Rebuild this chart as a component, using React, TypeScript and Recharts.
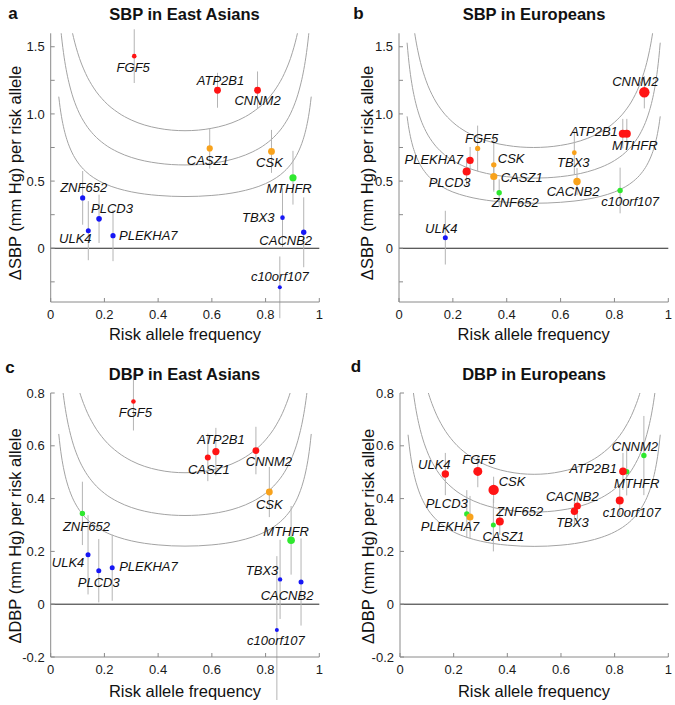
import React from 'react'
import {
  ComposedChart,
  Scatter,
  Line,
  XAxis,
  YAxis,
  ErrorBar,
  ReferenceLine,
} from 'recharts'

// --- data ---

// a: SBP in East Asians
const aGene = ['FGF5', 'ATP2B1', 'CNNM2', 'CASZ1', 'CSK', 'MTHFR', 'ZNF652', 'ULK4', 'PLCD3', 'PLEKHA7', 'TBX3', 'CACNB2', 'c10orf107']
const aFreq = [0.311, 0.621, 0.77, 0.592, 0.822, 0.902, 0.119, 0.14, 0.18, 0.232, 0.863, 0.942, 0.853]
const aBeta = [1.43, 1.176, 1.176, 0.743, 0.721, 0.525, 0.375, 0.131, 0.219, 0.094, 0.228, 0.119, -0.291]
const aErr = [0.2, 0.13, 0.14, 0.15, 0.16, 0.2, 0.2, 0.22, 0.18, 0.19, 0.22, 0.26, 0.23]
const aSig = ['r', 'r', 'r', 'o', 'o', 'g', 'b', 'b', 'b', 'b', 'b', 'b', 'b']
const aWeight = [2.3, 3.4, 3.4, 3.1, 3.4, 3.6, 2.6, 2.5, 2.8, 2.6, 2.3, 2.7, 2.0]

// b: SBP in Europeans
const bGene = ['CNNM2', 'ATP2B1', 'MTHFR', 'FGF5', 'PLEKHA7', 'PLCD3', 'CSK', 'CASZ1', 'ZNF652', 'TBX3', 'CACNB2', 'c10orf107', 'ULK4']
const bFreq = [0.911, 0.831, 0.846, 0.292, 0.264, 0.251, 0.352, 0.352, 0.372, 0.651, 0.661, 0.821, 0.172]
const bBeta = [1.161, 0.853, 0.853, 0.743, 0.654, 0.572, 0.621, 0.534, 0.413, 0.711, 0.497, 0.43, 0.079]
const bErr = [0.12, 0.11, 0.11, 0.17, 0.1, 0.1, 0.2, 0.1, 0.1, 0.16, 0.1, 0.17, 0.2]
const bSig = ['r', 'r', 'r', 'o', 'r', 'r', 'o', 'o', 'g', 'o', 'o', 'g', 'b']
const bWeight = [5.2, 4.0, 4.0, 2.6, 3.6, 4.0, 2.7, 3.6, 2.7, 2.4, 3.7, 2.7, 2.5]

// c: DBP in East Asians
const cGene = ['FGF5', 'CASZ1', 'ATP2B1', 'CNNM2', 'CSK', 'ZNF652', 'MTHFR', 'ULK4', 'PLCD3', 'PLEKHA7', 'TBX3', 'CACNB2', 'c10orf107']
const cFreq = [0.308, 0.585, 0.615, 0.764, 0.814, 0.118, 0.895, 0.139, 0.179, 0.229, 0.854, 0.932, 0.842]
const cBeta = [0.768, 0.556, 0.578, 0.582, 0.425, 0.344, 0.242, 0.187, 0.127, 0.138, 0.094, 0.084, -0.098]
const cErr = [0.11, 0.09, 0.09, 0.09, 0.095, 0.12, 0.13, 0.15, 0.12, 0.125, 0.15, 0.165, 0.28]
const cSig = ['r', 'r', 'r', 'r', 'o', 'g', 'g', 'b', 'b', 'b', 'b', 'b', 'b']
const cWeight = [2.3, 3.0, 3.6, 3.4, 3.4, 2.7, 3.8, 2.5, 2.5, 2.5, 2.2, 2.5, 2.0]

// d: DBP in Europeans
const dGene = ['ULK4', 'FGF5', 'CSK', 'CASZ1', 'ZNF652', 'PLCD3', 'PLEKHA7', 'CACNB2', 'TBX3', 'c10orf107', 'MTHFR', 'ATP2B1', 'CNNM2']
const dFreq = [0.169, 0.29, 0.349, 0.348, 0.372, 0.249, 0.261, 0.661, 0.65, 0.819, 0.845, 0.831, 0.909]
const dBeta = [0.493, 0.503, 0.433, 0.3, 0.313, 0.342, 0.33, 0.372, 0.352, 0.393, 0.502, 0.503, 0.563]
const dErr = [0.08, 0.06, 0.05, 0.1, 0.05, 0.09, 0.08, 0.05, 0.05, 0.055, 0.09, 0.07, 0.15]
const dSig = ['r', 'r', 'r', 'g', 'r', 'g', 'o', 'r', 'r', 'r', 'g', 'r', 'g']
const dWeight = [3.7, 4.5, 5.2, 2.5, 4.0, 2.7, 3.5, 3.5, 3.7, 4.0, 2.7, 3.8, 2.7]

// power curves: shared U shape (relative to the minimum at p = 0.5) and each curve's minimum
const curveP = [0.03, 0.035, 0.04, 0.05, 0.06, 0.07, 0.08, 0.1, 0.13, 0.16, 0.2, 0.25, 0.3, 0.35, 0.4, 0.45, 0.5,
  0.55, 0.6, 0.65, 0.7, 0.75, 0.8, 0.84, 0.87, 0.9, 0.92, 0.93, 0.94, 0.95, 0.96, 0.965, 0.97]
const curveRel = [2.931, 2.721, 2.551, 2.294, 2.105, 1.96, 1.843, 1.667, 1.487, 1.364, 1.25, 1.155, 1.091, 1.048, 1.021, 1.005, 1.0,
  1.005, 1.021, 1.048, 1.091, 1.155, 1.25, 1.364, 1.487, 1.667, 1.843, 1.96, 2.105, 2.294, 2.551, 2.721, 2.931]
const aLevels = [0.875, 0.62, 0.385]
const bLevels = [0.75, 0.522, 0.335]
const cLevels = [0.498, 0.336, 0.22]
const dLevels = [0.492, 0.349, 0.219]

const xTicks = [0, 0.2, 0.4, 0.6, 0.8, 1]
const sbpTicks = [-0.25, 0, 0.25, 0.5, 0.75, 1, 1.25, 1.5]
const dbpTicks = [-0.2, 0, 0.2, 0.4, 0.6, 0.8]

// --- layout / styling ---

const COLORS: Record<string, string> = { r: '#ff1414', o: '#f8a21c', g: '#2fe82f', b: '#1717f5' }

type LabelPos = Record<string, [number, number, string?]>

const aLabels: LabelPos = {
  FGF5: [-1, 11], ATP2B1: [3, -10], CNNM2: [0, 10], CASZ1: [-2, 12], CSK: [-2, 11], MTHFR: [-4, 11],
  ZNF652: [1, -10], PLCD3: [13, -10], ULK4: [-13, 8], PLEKHA7: [6, 0, 'start'], TBX3: [-8, 0, 'end'],
  CACNB2: [-18, 8], c10orf107: [0, -11],
}
const bLabels: LabelPos = {
  CNNM2: [-9, -11], ATP2B1: [-5, -2, 'end'], MTHFR: [8, 12], FGF5: [4, -10], PLEKHA7: [-7, -1, 'end'],
  PLCD3: [-17, 11], CSK: [4, -6, 'start'], CASZ1: [7, 1, 'start'], ZNF652: [16, 10], TBX3: [-1, 10],
  CACNB2: [-4, 10], c10orf107: [10, 11], ULK4: [-4, -9],
}
const cLabels: LabelPos = {
  FGF5: [2, 11], ATP2B1: [5, -12], CASZ1: [1, 12], CNNM2: [13, 11], CSK: [0, 12], ZNF652: [4, 13],
  MTHFR: [-5, -9], ULK4: [-20, 8], PLCD3: [0, 12], PLEKHA7: [7, -1, 'start'], TBX3: [-18, -9],
  CACNB2: [-14, 13], c10orf107: [-1, 10],
}
const dLabels: LabelPos = {
  ULK4: [-11, -10], FGF5: [1, -12], CSK: [5, -8, 'start'], ZNF652: [20, -10], CASZ1: [10, 11],
  PLCD3: [-20, -10], PLEKHA7: [-20, 9], CACNB2: [-5, -9], TBX3: [-2, 11], c10orf107: [12, 12],
  ATP2B1: [-6, -3, 'end'], MTHFR: [10, 12], CNNM2: [-9, -9],
}

function fmtX(v: number) {
  return v === 0 ? '0' : v === 1 ? '1' : v.toFixed(1)
}
function fmtSbp(v: number) {
  if (Math.abs(v * 2 - Math.round(v * 2)) > 1e-6) return ''
  return v === 0 ? '0' : v.toFixed(1)
}
function fmtDbp(v: number) {
  return Math.abs(v) < 1e-9 ? '0' : v.toFixed(1)
}

interface PanelProps {
  left: number
  top: number
  margin: { top: number; right: number; bottom: number; left: number }
  genes: string[]
  freq: number[]
  beta: number[]
  err: number[]
  sig: string[]
  weight: number[]
  levels: number[]
  labels: LabelPos
  domain: [number, number]
  ticks: number[]
  fmtY: (v: number) => string
}

const FRAME = '#8a8a8a'
const tickStyle = { fill: '#1a1a1a', fontSize: 13 }

function Panel(props: PanelProps) {
  const points = props.genes.map((gene, i) => ({
    gene,
    p: props.freq[i],
    v: props.beta[i],
    err: props.err[i],
    sig: props.sig[i],
    w: props.weight[i],
  }))
  const curves = props.levels.map(level => curveP.map((p, i) => ({ p, v: level * curveRel[i] })))

  // eslint-disable-next-line @typescript-eslint/no-explicit-any
  const dot = (s: any) => (
    <circle cx={s.cx} cy={s.cy} r={s.payload.w} fill={COLORS[s.payload.sig]} />
  )
  // eslint-disable-next-line @typescript-eslint/no-explicit-any
  const label = (s: any) => {
    const pos = props.labels[s.payload.gene] || [0, 0]
    return (
      <text
        x={s.cx + pos[0]}
        y={s.cy + pos[1]}
        textAnchor={pos[2] || 'middle'}
        dominantBaseline="central"
        fontSize={13}
        fontStyle="italic"
        fill="#111"
      >
        {s.payload.gene}
      </text>
    )
  }

  return (
    <div style={{ position: 'absolute', left: props.left, top: props.top }}>
      <ComposedChart width={335} height={340} margin={props.margin}>
        <XAxis
          dataKey="p"
          type="number"
          domain={[0, 1]}
          ticks={xTicks}
          tickFormatter={fmtX}
          tickSize={-4}
          tickMargin={12}
          stroke={FRAME}
          tick={tickStyle}
          height={30}
          allowDataOverflow
        />
        <YAxis
          dataKey="v"
          type="number"
          domain={props.domain}
          ticks={props.ticks}
          tickFormatter={props.fmtY}
          tickSize={-4}
          tickMargin={10}
          stroke={FRAME}
          tick={tickStyle}
          width={40}
          allowDataOverflow
        />
        <XAxis
          xAxisId="top"
          orientation="top"
          type="number"
          domain={[0, 1]}
          ticks={xTicks}
          tick={false}
          tickSize={-4}
          stroke={FRAME}
          height={0}
          allowDataOverflow
        />
        <YAxis
          yAxisId="right"
          orientation="right"
          type="number"
          domain={props.domain}
          ticks={props.ticks}
          tick={false}
          tickSize={-4}
          stroke={FRAME}
          width={0}
          allowDataOverflow
        />
        <ReferenceLine y={0} stroke="#262626" strokeWidth={1} />
        {curves.map((c, i) => (
          <Line
            key={i}
            data={c}
            dataKey="v"
            type="monotone"
            dot={false}
            activeDot={false}
            stroke="#a3a3a3"
            strokeWidth={1}
            isAnimationActive={false}
          />
        ))}
        <Scatter data={points} dataKey="v" shape={dot} isAnimationActive={false}>
          <ErrorBar dataKey="err" direction="y" width={0} stroke="#b4b4b4" strokeWidth={1} />
        </Scatter>
        <Scatter data={points} dataKey="v" shape={label} isAnimationActive={false} />
      </ComposedChart>
    </div>
  )
}

const titleStyle = { fontSize: 16.5, fontWeight: 700 } as const

export default function App() {
  return (
    <div
      style={{
        position: 'absolute',
        left: 0,
        top: 0,
        width: 675,
        height: 705,
        background: '#fff',
        fontFamily: '"Liberation Sans", Arial, sans-serif',
      }}
    >
      <Panel
        left={0} top={0}
        margin={{ top: 33.3, right: 15.7, bottom: 8, left: 10.7 }}
        genes={aGene} freq={aFreq} beta={aBeta} err={aErr} sig={aSig} weight={aWeight}
        levels={aLevels} labels={aLabels} domain={[-0.4, 1.6]} ticks={sbpTicks} fmtY={fmtSbp}
      />
      <Panel
        left={340} top={0}
        margin={{ top: 33.3, right: 6.7, bottom: 8, left: 19 }}
        genes={bGene} freq={bFreq} beta={bBeta} err={bErr} sig={bSig} weight={bWeight}
        levels={bLevels} labels={bLabels} domain={[-0.4, 1.6]} ticks={sbpTicks} fmtY={fmtSbp}
      />
      <Panel
        left={0} top={360}
        margin={{ top: 33, right: 15.7, bottom: 13, left: 10.7 }}
        genes={cGene} freq={cFreq} beta={cBeta} err={cErr} sig={cSig} weight={cWeight}
        levels={cLevels} labels={cLabels} domain={[-0.2, 0.8]} ticks={dbpTicks} fmtY={fmtDbp}
      />
      <Panel
        left={340} top={360}
        margin={{ top: 33, right: 6.7, bottom: 13, left: 20 }}
        genes={dGene} freq={dFreq} beta={dBeta} err={dErr} sig={dSig} weight={dWeight}
        levels={dLevels} labels={dLabels} domain={[-0.2, 0.8]} ticks={dbpTicks} fmtY={fmtDbp}
      />
      <svg
        width={675}
        height={705}
        style={{ position: 'absolute', left: 0, top: 0, pointerEvents: 'none' }}
      >
        <g fill="#111" textAnchor="middle" dominantBaseline="central">
          <text x={13} y={13.5} fontSize={17} fontWeight={700}>a</text>
          <text x={358.5} y={13.5} fontSize={17} fontWeight={700}>b</text>
          <text x={10} y={367} fontSize={17} fontWeight={700}>c</text>
          <text x={356} y={366.5} fontSize={17} fontWeight={700}>d</text>

          <text x={184.5} y={14} {...titleStyle}>SBP in East Asians</text>
          <text x={534} y={14} {...titleStyle}>SBP in Europeans</text>
          <text x={184.5} y={373.5} {...titleStyle}>DBP in East Asians</text>
          <text x={534} y={373.5} {...titleStyle}>DBP in Europeans</text>

          <text x={185} y={334} fontSize={16.5}>Risk allele frequency</text>
          <text x={533.7} y={334} fontSize={16.5}>Risk allele frequency</text>
          <text x={185} y={690.7} fontSize={16.5}>Risk allele frequency</text>
          <text x={534} y={690.7} fontSize={16.5}>Risk allele frequency</text>

          <text transform="translate(15,173) rotate(-90)" fontSize={16.5}>ΔSBP (mm Hg) per risk allele</text>
          <text transform="translate(366.7,173) rotate(-90)" fontSize={16.5}>ΔSBP (mm Hg) per risk allele</text>
          <text transform="translate(15,536) rotate(-90)" fontSize={16.5}>ΔDBP (mm Hg) per risk allele</text>
          <text transform="translate(368.3,536.5) rotate(-90)" fontSize={16.5}>ΔDBP (mm Hg) per risk allele</text>
        </g>
      </svg>
    </div>
  )
}
